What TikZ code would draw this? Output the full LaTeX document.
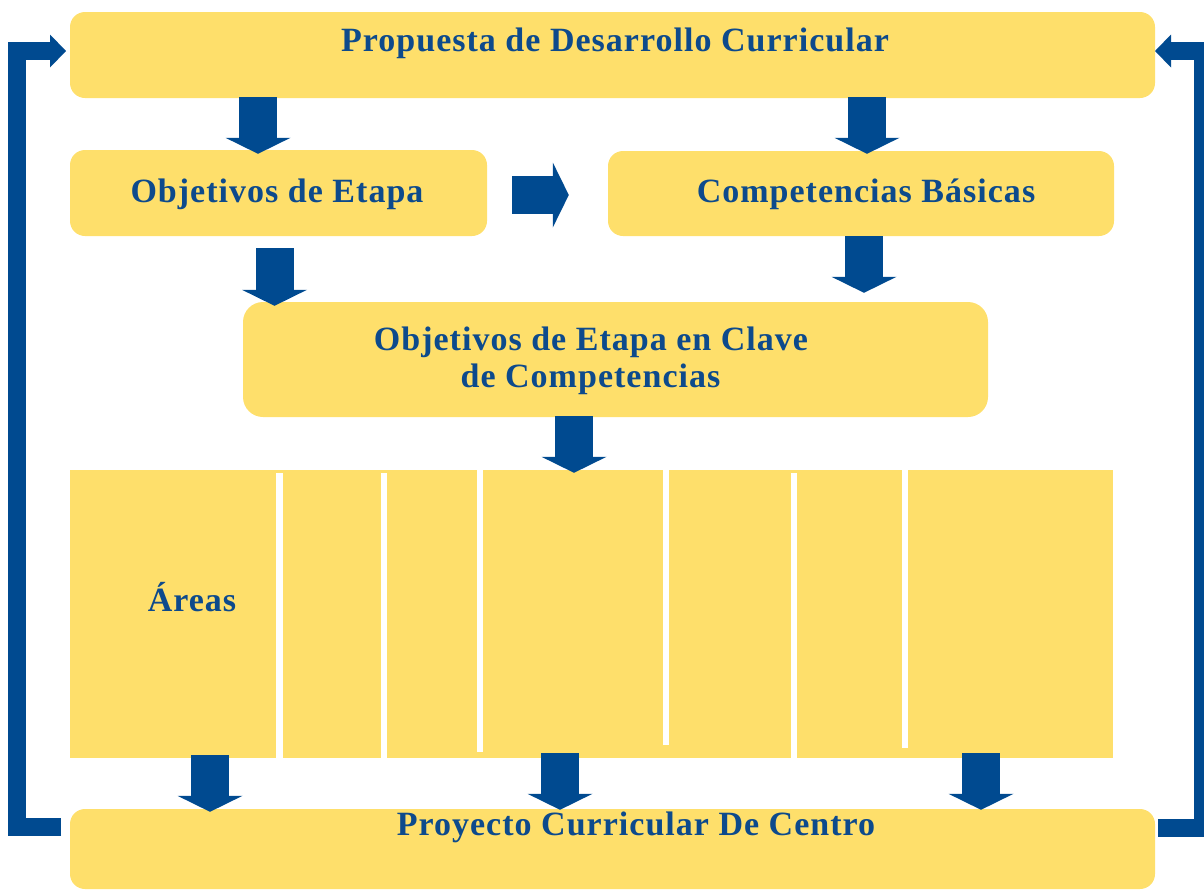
\documentclass[tikz,border=0pt]{standalone}
\usepackage{fontspec}
\setmainfont{Liberation Serif}
\newfontfamily\labelfont[LetterSpace=3]{Liberation Serif}
\usetikzlibrary{arrows.meta,calc}
\definecolor{boxyellow}{HTML}{FEDF6B}
\definecolor{navy}{HTML}{004A90}
\definecolor{textblue}{HTML}{0D4A8C}
\tikzset{
  box/.style={fill=boxyellow, draw=none, rounded corners=15pt, inner sep=0pt},
  lbl/.style={text=textblue, font=\labelfont\bfseries\fontsize{34}{36}\selectfont, anchor=base, inner sep=0pt},
  blk/.style={draw=navy, line width=38pt, -{Triangle[length=16pt,width=65pt,line width=0pt,fill=navy]}},
  fback/.style={draw=navy, line width=18pt, line join=miter, -{Triangle[length=16pt,width=33pt,line width=0pt,fill=navy]}},
  gapline/.style={fill=white, draw=none}
}
\begin{document}
\begin{tikzpicture}[x=1pt,y=-1pt]
\useasboundingbox (0,0) rectangle (1204,889);
\clip (0,0) rectangle (1204,889);
% boxes
\node[box, minimum width=1085pt, minimum height=86pt] (pdc) at (612.5,55) {};
\node[box, minimum width=417pt, minimum height=86pt] (oe) at (278.5,193) {};
\node[box, minimum width=506pt, minimum height=85pt] (cb) at (861,193.5) {};
\node[box, rounded corners=20pt, minimum width=745pt, minimum height=115pt] (oc) at (615.5,359.5) {};
\node[box, rounded corners=0pt, minimum width=1043pt, minimum height=288pt] (ar) at (591.5,614) {};
\node[box, minimum width=1085pt, minimum height=80pt] (pcd) at (612.5,849) {};
% white separators in the areas block
\fill[gapline] (276,473) rectangle (282.5,759);
\fill[gapline] (381,473) rectangle (387,759);
\fill[gapline] (477,470) rectangle (482.5,752);
\fill[gapline] (662.5,470) rectangle (668.5,745);
\fill[gapline] (791,473) rectangle (797,759);
\fill[gapline] (901.5,470) rectangle (907.5,748);
% texts
\node[lbl] (t1) at (615,51) {Propuesta de Desarrollo Curricular};
\node[lbl] (t2) at (277,202) {Objetivos de Etapa};
\node[lbl] (t3) at (866,202) {Competencias Básicas};
\node[lbl] (t4a) at (591,350.5) {Objetivos de Etapa en Clave};
\node[lbl] (t4b) at (590.5,387) {de Competencias};
\node[lbl] (t5) at (192,611.5) {Áreas};
\node[lbl] (t6) at (636,835.5) {Proyecto Curricular De Centro};
% block arrows
\coordinate (x1) at (258,0);
\coordinate (x2) at (867,0);
\coordinate (y3) at (0,195);
\coordinate (x4) at (274.5,0);
\coordinate (x5) at (864,0);
\coordinate (x6) at (574,0);
\coordinate (x7) at (210,0);
\coordinate (x8) at (560,0);
\coordinate (x9) at (981,0);
\draw[blk] ($(pdc.south -| x1)+(0,-1)$) -- ($(oe.north -| x1)+(0,4)$);
\draw[blk] ($(pdc.south -| x2)+(0,-1)$) -- ($(cb.north -| x2)+(0,3)$);
\draw[blk] ($(oe.east |- y3)+(25,0)$) -- ($(cb.west |- y3)+(-39,0)$);
\draw[blk] ($(oe.south -| x4)+(0,12)$) -- ($(oc.north -| x4)+(0,4)$);
\draw[blk] (cb.south -| x5) -- ($(oc.north -| x5)+(0,-9)$);
\draw[blk] ($(oc.south -| x6)+(0,-1)$) -- ($(ar.north -| x6)+(0,3)$);
\draw[blk] ($(ar.south -| x7)+(0,-3)$) -- ($(pcd.north -| x7)+(0,3)$);
\draw[blk] ($(ar.south -| x8)+(0,-5)$) -- ($(pcd.north -| x8)+(0,1)$);
\draw[blk] ($(ar.south -| x9)+(0,-5)$) -- ($(pcd.north -| x9)+(0,1)$);
% feedback loops
\coordinate (lb) at (61,827);
\coordinate (lm) at (17,51);
\coordinate (lt) at (66,51);
\coordinate (rb) at (1158,827.5);
\coordinate (rm) at (1203,51);
\coordinate (rt) at (1155,51);
\draw[fback] (lb) -| (lm) -- (lt);
\draw[fback] (rb) -| (rm) -- (rt);
\end{tikzpicture}
\end{document}
